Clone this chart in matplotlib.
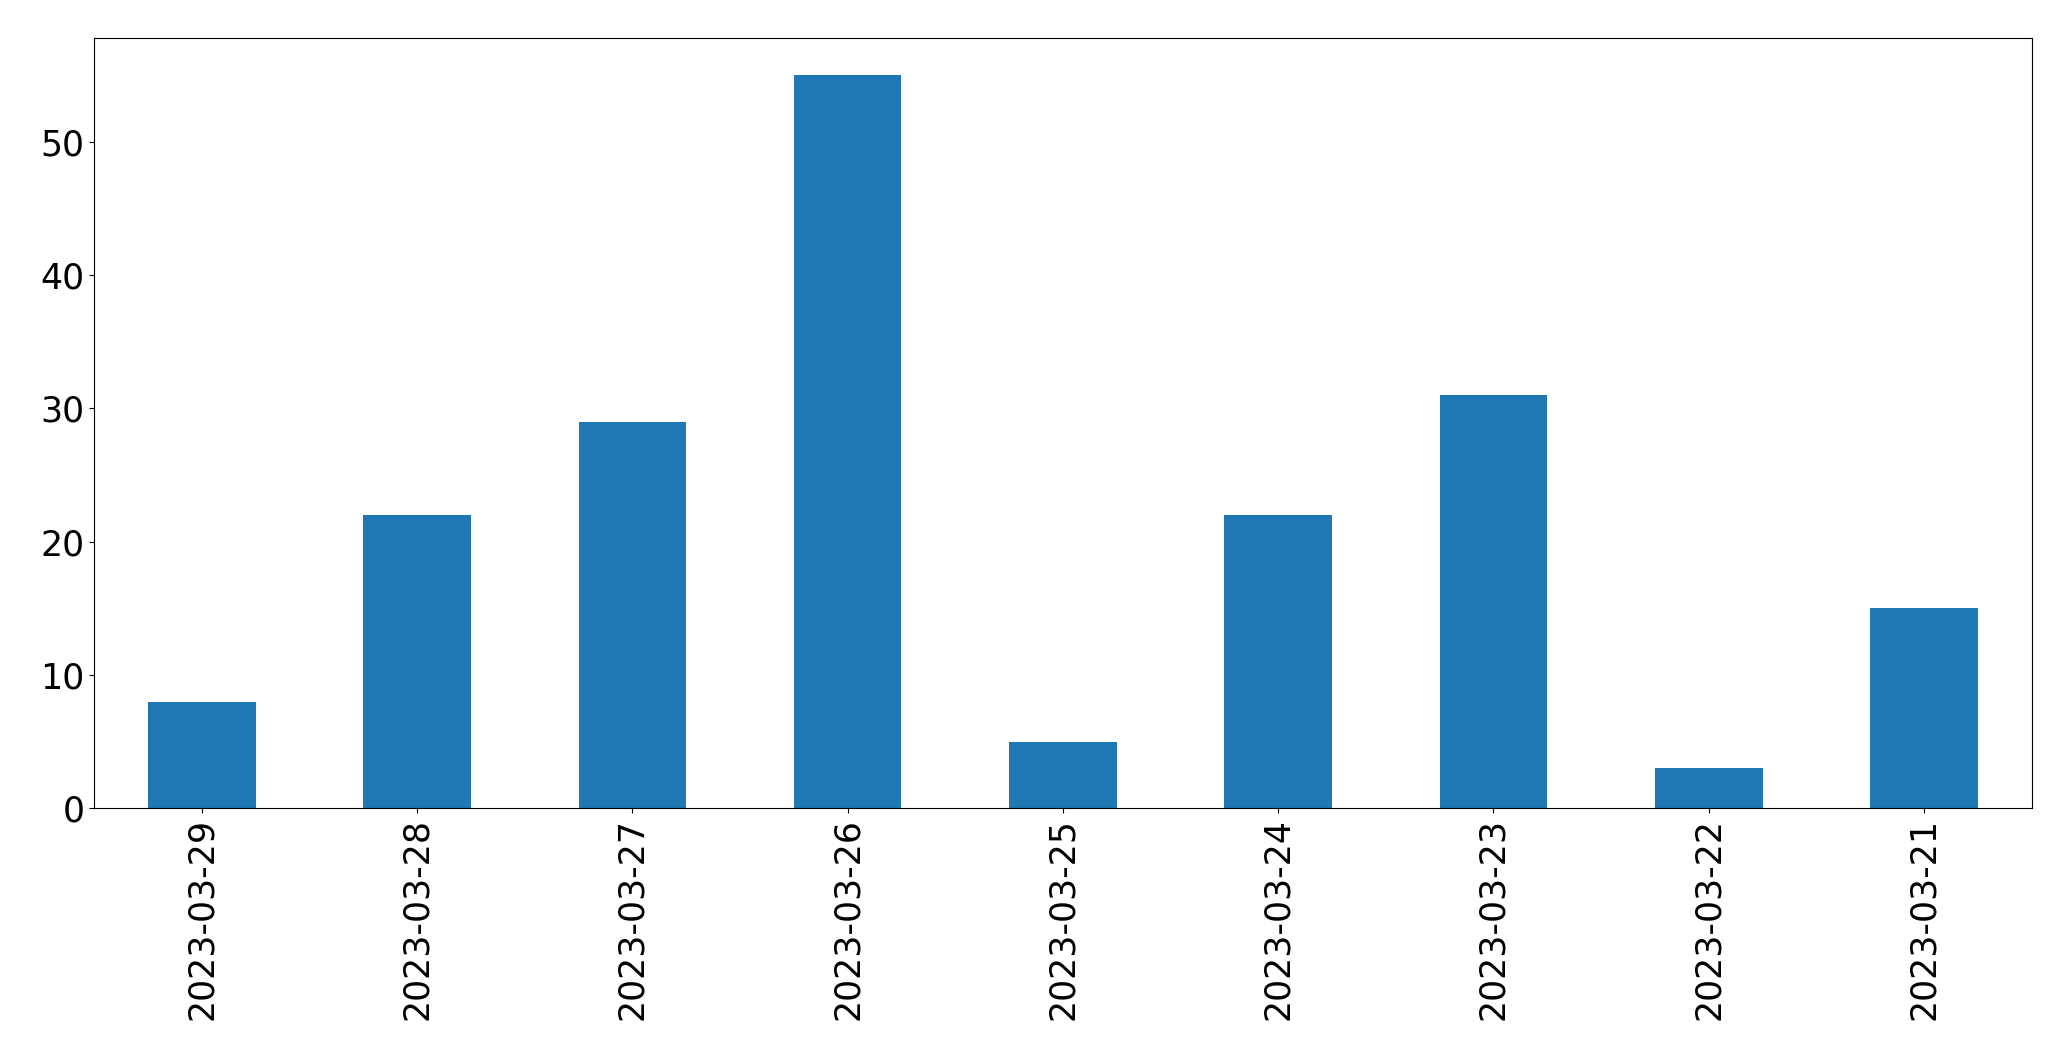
import matplotlib
matplotlib.use('Agg')
import matplotlib.pyplot as plt
import pandas as pd

# данные по дням
dates = ['2023-03-29', '2023-03-28', '2023-03-27', '2023-03-26', '2023-03-25',
         '2023-03-24', '2023-03-23', '2023-03-22', '2023-03-21']
counts = [8, 22, 29, 55, 5, 22, 31, 3, 15]

s = pd.Series(counts, index=dates)

fig = plt.figure(figsize=(20.71, 10.61), dpi=100)
ax = fig.add_axes([0.0455, 0.238, 0.9355, 0.726])
s.plot(kind='bar', ax=ax, color='#1f77b4', fontsize=25)
ax.tick_params(axis='both', labelsize=25)

fig.savefig('out.png', dpi=100)
